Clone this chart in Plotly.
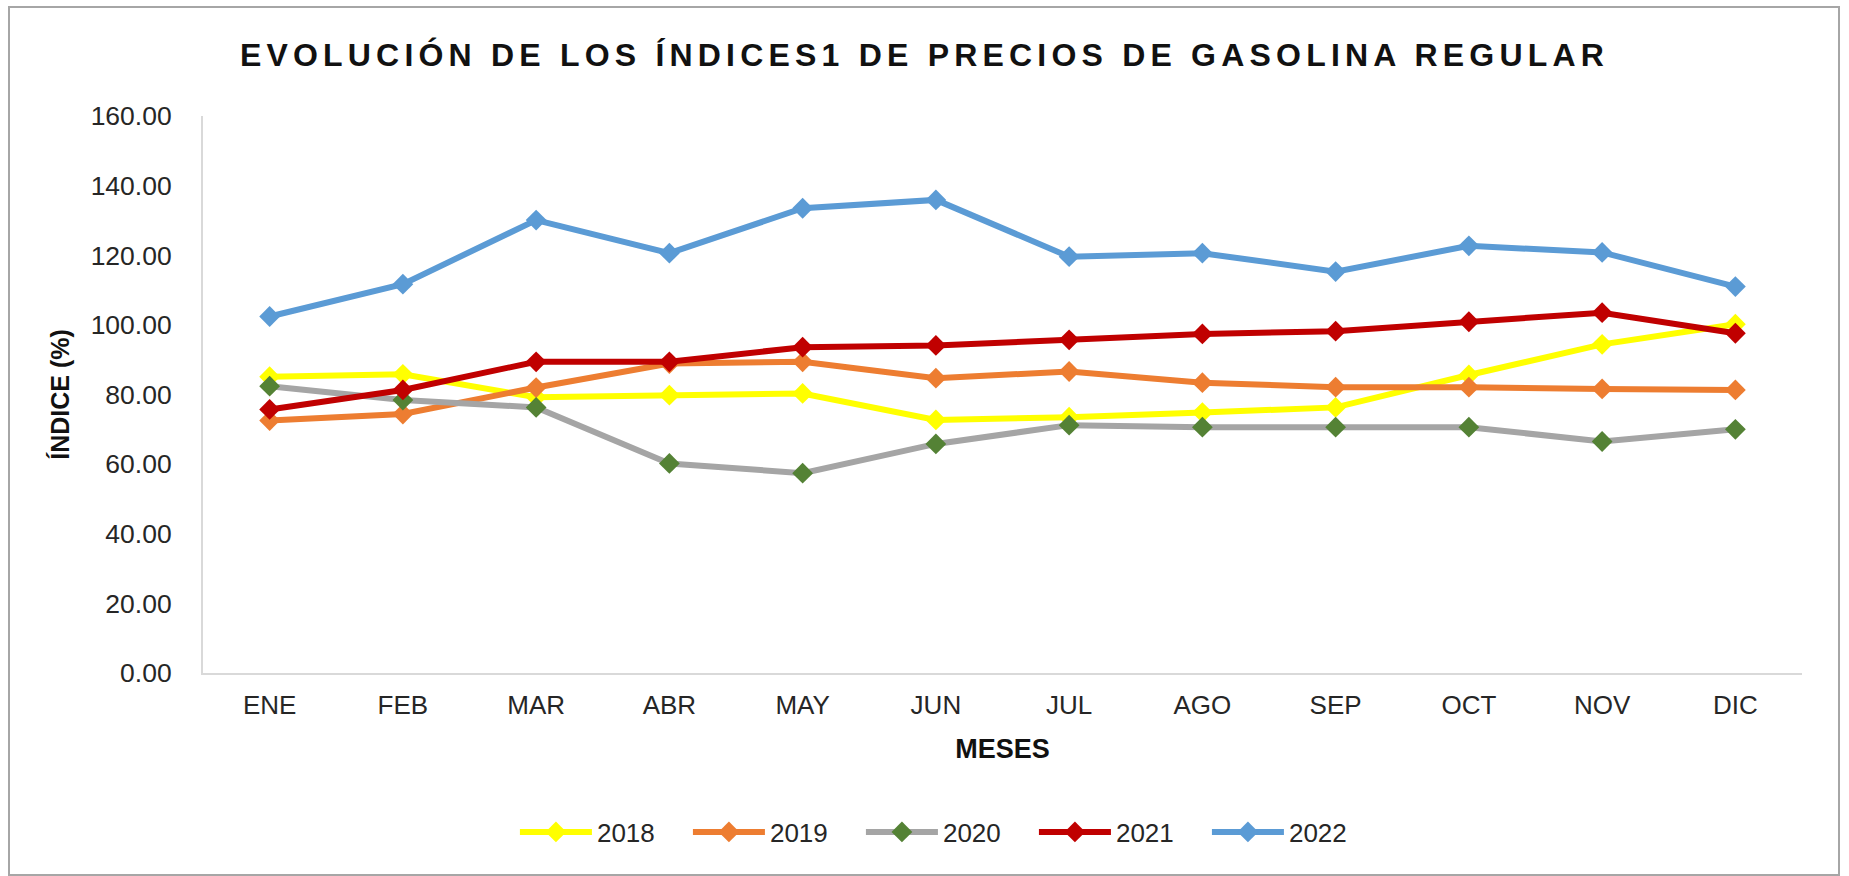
import plotly.graph_objects as go

# Month labels (x categories)
months = ["ENE", "FEB", "MAR", "ABR", "MAY", "JUN", "JUL", "AGO", "SEP", "OCT", "NOV", "DIC"]

# Monthly regular-gasoline price index (%) per year
idx_2018 = [85.1, 85.8, 79.2, 79.8, 80.3, 72.7, 73.5, 74.8, 76.3, 85.6, 94.4, 100.2]
idx_2019 = [72.5, 74.4, 82.0, 88.9, 89.4, 84.7, 86.6, 83.4, 82.1, 82.1, 81.6, 81.3]
idx_2020 = [82.4, 78.4, 76.3, 60.2, 57.4, 65.8, 71.2, 70.6, 70.6, 70.6, 66.5, 70.0]
idx_2021 = [75.7, 81.3, 89.4, 89.4, 93.6, 94.1, 95.7, 97.4, 98.2, 100.9, 103.5, 97.6]
idx_2022 = [102.4, 111.7, 130.1, 120.6, 133.5, 135.9, 119.6, 120.6, 115.3, 122.7, 120.8, 111.0]

y_ticks = [0, 20, 40, 60, 80, 100, 120, 140, 160]

series = [
    ("2018", idx_2018, "#FFFF00", "#FFFF00"),
    ("2019", idx_2019, "#ED7D31", "#ED7D31"),
    ("2020", idx_2020, "#A5A5A5", "#548235"),
    ("2021", idx_2021, "#C00000", "#C00000"),
    ("2022", idx_2022, "#5B9BD5", "#5B9BD5"),
]

FONT = "Liberation Sans, Arial, sans-serif"
TEXT = "#262626"

fig = go.Figure()
for name, vals, line_col, mark_col in series:
    fig.add_trace(go.Scatter(
        x=months, y=vals, name=name, mode="lines+markers",
        line=dict(color=line_col, width=6),
        marker=dict(symbol="diamond", size=16, color=mark_col,
                    line=dict(width=0)),
    ))

W, H = 1849, 876
ML, MR, MT, MB = 203, 47, 116, 203

fig.update_layout(
    width=W, height=H,
    margin=dict(l=ML, r=MR, t=MT, b=MB, pad=0),
    paper_bgcolor="white", plot_bgcolor="white",
    font=dict(family=FONT, size=26, color=TEXT),
    title=dict(
        text="EVOLUCIÓN DE LOS ÍNDICES1 DE PRECIOS DE GASOLINA REGULAR",
        x=0.5, xanchor="center", xref="container",
        y=1 - 55 / H, yanchor="middle", yref="container",
        font=dict(family=FONT, size=32, color="#111111", weight="bold"),
    ),
    xaxis=dict(
        type="category", range=[-0.5, 11.5],
        showline=True, linecolor="#D9D9D9", linewidth=2,
        showgrid=False, zeroline=False, ticks="",
        ticklabelstandoff=8,
        tickfont=dict(size=26, color=TEXT),
        title=dict(text="MESES", standoff=20,
                   font=dict(size=27, color="#111111", weight="bold")),
    ),
    yaxis=dict(
        range=[0, 160], tickvals=y_ticks,
        tickformat=".2f",
        showline=True, linecolor="#D9D9D9", linewidth=2,
        showgrid=False, zeroline=False, ticks="",
        ticklabelstandoff=24,
        tickfont=dict(size=26.5, color=TEXT),
        title=dict(text="ÍNDICE (%)", standoff=14,
                   font=dict(size=25, color="#111111", weight="bold")),
    ),
    legend=dict(
        orientation="h", xref="container", x=0.5124, xanchor="center",
        yref="container", y=1 - 832 / H, yanchor="middle",
        font=dict(size=26, color=TEXT), itemwidth=72,
        entrywidth=86, entrywidthmode="pixels",
        traceorder="normal", bgcolor="rgba(0,0,0,0)",
    ),
    showlegend=True,
)

# Outer chart frame
pw, ph = W - ML - MR, H - MT - MB
fig.add_shape(
    type="rect", xref="paper", yref="paper", layer="below",
    x0=(9 - ML) / pw, x1=(1839 - ML) / pw,
    y0=(H - MB - 875) / ph, y1=(H - MB - 7) / ph,
    line=dict(color="#A6A6A6", width=2), fillcolor="rgba(0,0,0,0)",
)

# Wide title tracking and longer legend line samples
post_js = """
document.querySelectorAll('.gtitle').forEach(function(e){
  e.style.letterSpacing = '5.2px';
});
document.querySelectorAll('.legend .legendlines path').forEach(function(p){
  p.setAttribute('d', 'M5,0h72');
});
document.querySelectorAll('.legend .legendpoints path').forEach(function(p){
  p.setAttribute('transform', 'translate(41,0)');
});
"""

fig.write_html("out.html", post_script=post_js)
